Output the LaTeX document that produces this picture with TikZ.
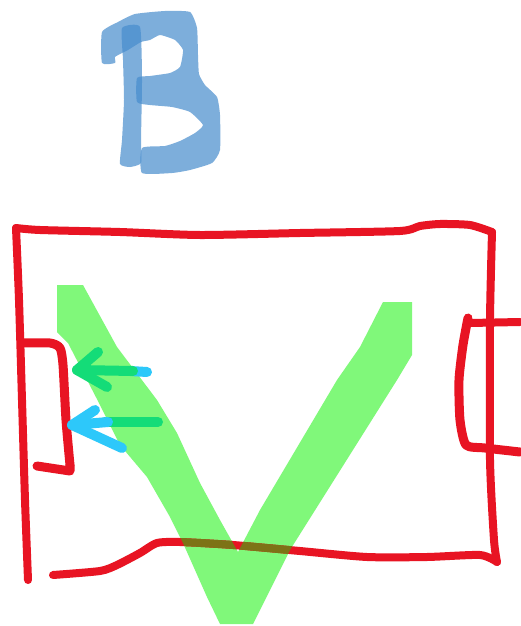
\documentclass[tikz,border=0pt]{standalone}
\definecolor{penred}{RGB}{232,20,35}
\definecolor{overlap}{RGB}{125,115,22}
\definecolor{vgreen}{RGB}{128,248,122}
\definecolor{arrgreen}{RGB}{20,220,120}
\definecolor{arrcyan}{RGB}{45,200,250}
\definecolor{bblue}{RGB}{70,140,205}
\begin{document}
\begin{tikzpicture}[x=1pt,y=-1pt,line cap=round,line join=round,
  redline/.style={draw=penred,line width=8pt},
  bfill/.style={fill=bblue,fill opacity=0.7},
  arrg/.style={draw=arrgreen,line width=10pt},
  arrc/.style={draw=arrcyan,line width=10pt}]
\useasboundingbox (0,0) rectangle (520,626);
\fill[white] (0,0) rectangle (520,626);
% letter B
\path[bfill] plot[smooth cycle,tension=0.3] coordinates {(122,28) (140,27) (142,80) (141,140) (141,163) (130,167) (120,164) (122,140) (124,100) (123,60)};
\path[bfill] plot[smooth cycle,tension=0.3] coordinates {(102,63) (102,32) (118,22) (135,14) (165,11) (190,12) (197,28) (198,55) (199,74) (205,85) (217,97) (220,115) (220,150) (212,163) (190,170) (172,173) (142,173) (142,148) (165,146) (180,141) (195,133) (203,125) (190,112) (172,107) (150,105) (137,102) (137,78) (150,76) (170,73) (180,67) (183,50) (175,40) (160,35) (150,40) (141,42) (128,50) (122,53) (115,57) (115,63)};
% green V
\path[fill=vgreen] (57,285) -- (83,285) -- (117,347) -- (157,400) -- (177,433) -- (200,483) -- (220,520) -- (238,552) -- (260,510) -- (337,380) -- (360,347) -- (383,302) -- (412,302) -- (412,355) -- (397,380) -- (290,550) -- (253,624) -- (220,624) -- (207,597) -- (183,543) -- (170,517) -- (147,477) -- (120,445) -- (100,405) -- (68,343) -- (57,332) -- cycle;
% big red rectangle
\draw[redline] plot[smooth,tension=0.4] coordinates {(28,580) (25,500) (22,400) (19,300) (16,228)};
\draw[redline] plot[smooth,tension=0.4] coordinates {(16,228) (40,230) (120,232) (200,235) (300,233) (400,231) (420,226) (440,224) (470,225) (492,232)};
\draw[redline] plot[smooth,tension=0.4] coordinates {(492,232) (490,320) (490,460) (494,540) (497,562)};
\draw[redline] plot[smooth,tension=0.4] coordinates {(497,562) (480,555) (427,557) (367,557) (300,551) (233,545) (180,542) (157,543) (140,553) (117,565) (100,571) (53,575)};
\begin{scope}
\clip (57,285) -- (83,285) -- (117,347) -- (157,400) -- (177,433) -- (200,483) -- (220,520) -- (238,552) -- (260,510) -- (337,380) -- (360,347) -- (383,302) -- (412,302) -- (412,355) -- (397,380) -- (290,550) -- (253,624) -- (220,624) -- (207,597) -- (183,543) -- (170,517) -- (147,477) -- (120,445) -- (100,405) -- (68,343) -- (57,332) -- cycle;
\draw[redline,draw=overlap] plot[smooth,tension=0.4] coordinates {(497,562) (480,555) (427,557) (367,557) (300,551) (233,545) (180,542) (157,543) (140,553) (117,565) (100,571) (53,575)};
\end{scope}
% left small rectangle
\draw[redline,line width=9pt] plot[smooth,tension=0.4] coordinates {(22,343) (50,343) (60,348) (63,365) (66,420) (70,465)};
\draw[redline,line width=9pt] (70,465) -- (70,471) -- (37,466);
% right small rectangle
\draw[redline] (470,323) -- (520,322);
\draw[redline,line width=9pt] plot[smooth,tension=0.4] coordinates {(468,318) (463,345) (459,380) (460,420) (466,445) (485,448) (520,452)};
% upper arrow
\draw[arrc] (130,371) -- (147,372);
\draw[arrg] (77,370) -- (133,371);
\draw[arrg] (98,352) -- (77,370) -- (107,387);
% lower arrow
\draw[arrg] (105,422) -- (158,422);
\draw[arrc] (72,425) -- (108,422);
\draw[arrc] (95,410) -- (72,425) -- (122,448);
\end{tikzpicture}
\end{document}
